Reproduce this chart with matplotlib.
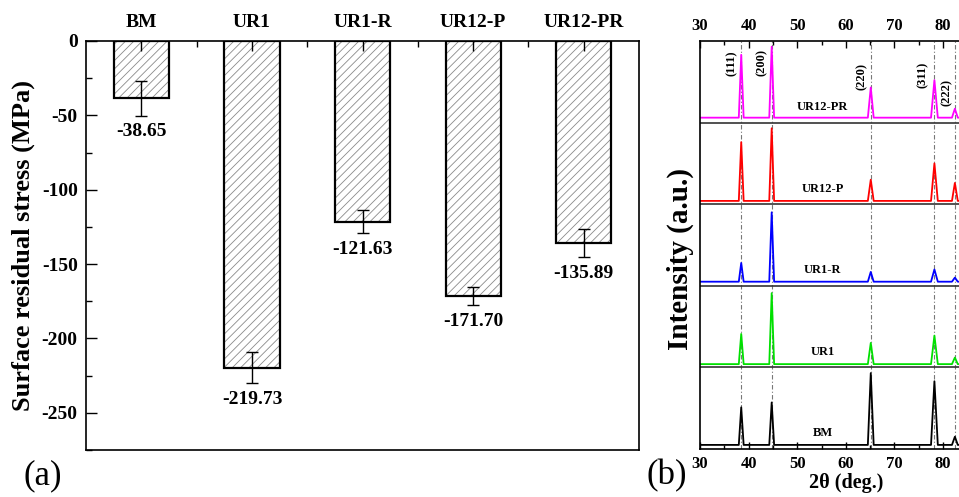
import numpy as np
import matplotlib
matplotlib.use("Agg")
import matplotlib.pyplot as plt
from matplotlib.ticker import MultipleLocator

plt.rcParams['font.family'] = ['Liberation Serif', 'DejaVu Serif']
plt.rcParams['hatch.linewidth'] = 0.6
plt.rcParams['axes.unicode_minus'] = False

# --- (a) residual stress ---
campioni = ["BM", "UR1", "UR1-R", "UR12-P", "UR12-PR"]
stress = [-38.65, -219.73, -121.63, -171.70, -135.89]
errori = [11.5, 10.5, 7.7, 6.0, 9.5]

# --- (b) XRD ---
picchi = [38.47, 44.74, 65.13, 78.23, 82.44]
picchi_hkl = ["(111)", "(200)", "(220)", "(311)", "(222)"]
semilarg = [0.5, 0.5, 0.6, 0.7, 0.6]
nomi_xrd = ["BM", "UR1", "UR1-R", "UR12-P", "UR12-PR"]
colori_xrd = ["black", "#00e000", "#0000ff", "#ff0000", "#ff00ff"]
base_xrd = [0.05, 0.04, 0.05, 0.04, 0.06]
# altezze dei picchi (frazione del pannello), stesso ordine di picchi
alt_BM = [0.51, 0.57, 0.93, 0.83, 0.15]
alt_UR1 = [0.41, 0.91, 0.30, 0.39, 0.12]
alt_UR1R = [0.28, 0.90, 0.17, 0.20, 0.10]
alt_UR12P = [0.76, 0.93, 0.30, 0.50, 0.26]
alt_UR12PR = [0.83, 0.93, 0.43, 0.52, 0.17]
altezze = [alt_BM, alt_UR1, alt_UR1R, alt_UR12P, alt_UR12PR]

fig = plt.figure(figsize=(9.59, 4.97), dpi=100)

ax = fig.add_axes([0.0897, 0.0946, 0.5767, 0.823])
xpos = np.arange(1, len(campioni) + 1)
ax.bar(xpos, stress, width=0.5, facecolor="white", edgecolor="#8a8a8a",
       hatch="////", linewidth=0)
ax.bar(xpos, stress, width=0.5, facecolor="none", edgecolor="black",
       linewidth=1.6)
ax.errorbar(xpos, stress, yerr=errori, fmt="none", ecolor="black",
            elinewidth=1.0, capsize=4, capthick=1.0)
for x, v, e in zip(xpos, stress, errori):
    ax.text(x, v - e - 5, "{:.2f}".format(v), ha="center", va="top",
            fontsize=14, fontweight="bold")

ax.set_xlim(0.5, 5.5)
ax.set_ylim(-275, 0)
ax.xaxis.tick_top()
ax.set_xticks(xpos)
ax.set_xticklabels(campioni, fontsize=14, fontweight="bold")
ax.set_xticks(xpos[:-1] + 0.5, minor=True)
ax.tick_params(axis="x", which="major", direction="in", length=7, width=1,
               pad=7, top=True, bottom=False)
ax.tick_params(axis="x", which="minor", direction="in", length=4, width=1,
               top=True, bottom=False)
ax.set_yticks([0, -50, -100, -150, -200, -250])
ax.yaxis.set_minor_locator(MultipleLocator(25))
ax.tick_params(axis="y", which="major", direction="in", length=8, width=1,
               labelsize=14, pad=6)
ax.tick_params(axis="y", which="minor", direction="in", length=4, width=1)
for lab in ax.get_yticklabels():
    lab.set_fontweight("bold")
for sp in ax.spines.values():
    sp.set_linewidth(1.2)
ax.set_ylabel("Surface residual stress (MPa)", fontsize=19, fontweight="bold")
ax.yaxis.set_label_coords(-0.092, 0.5)
fig.text(0.024, 0.026, "(a)", fontsize=25)

# pannello XRD
bx = fig.add_axes([0.730, 0.0966, 0.304, 0.821])
for i, (nome, col, base, alt) in enumerate(zip(nomi_xrd, colori_xrd, base_xrd, altezze)):
    xs = [30]
    ys = [i + base]
    for p, w, h in zip(picchi, semilarg, alt):
        xs += [p - w, p, p + w]
        ys += [i + base, i + h, i + base]
    xs.append(90)
    ys.append(i + base)
    bx.plot(xs, ys, color=col, lw=1.3)
    bx.text(55.2, i + 0.19, nome, ha="center", va="center", fontsize=9,
            fontweight="bold")
for k in range(1, 5):
    bx.axhline(k, color="#333333", lw=1.2)
for p in picchi:
    bx.axvline(p, color="#777777", lw=0.8, ls=(0, (4, 2, 1, 2)), zorder=0)

hkl_x = [36.6, 42.6, 63.3, 75.9, 80.8]
hkl_y = [4.73, 4.73, 4.56, 4.58, 4.37]
for t, x, y in zip(picchi_hkl, hkl_x, hkl_y):
    bx.text(x, y, t, rotation=90, ha="center", va="center", fontsize=9,
            fontweight="bold")

bx.set_xlim(30, 90)
bx.set_ylim(0, 5)
bx.set_yticks([])
bx.xaxis.set_minor_locator(MultipleLocator(5))
bx.set_xticks(np.arange(30, 90, 10))
bx.set_xticklabels([str(v) for v in range(30, 90, 10)], fontweight="bold")
bx.tick_params(axis="x", which="major", direction="in", length=5, width=1,
               top=True, bottom=True, labeltop=True, labelbottom=True,
               labelsize=12, pad=5)
bx.tick_params(axis="x", which="minor", direction="in", length=3, width=1,
               top=True, bottom=True)
for sp in bx.spines.values():
    sp.set_linewidth(1.2)
bx.set_xlabel("2θ (deg.)", fontsize=14.5, fontweight="bold", labelpad=1)
bx.set_ylabel("Intensity (a.u.)", fontsize=21, fontweight="bold")
bx.yaxis.set_label_coords(-0.022, 0.465)
fig.text(0.674, 0.026, "(b)", fontsize=25)

fig.savefig("out.png", dpi=100)
